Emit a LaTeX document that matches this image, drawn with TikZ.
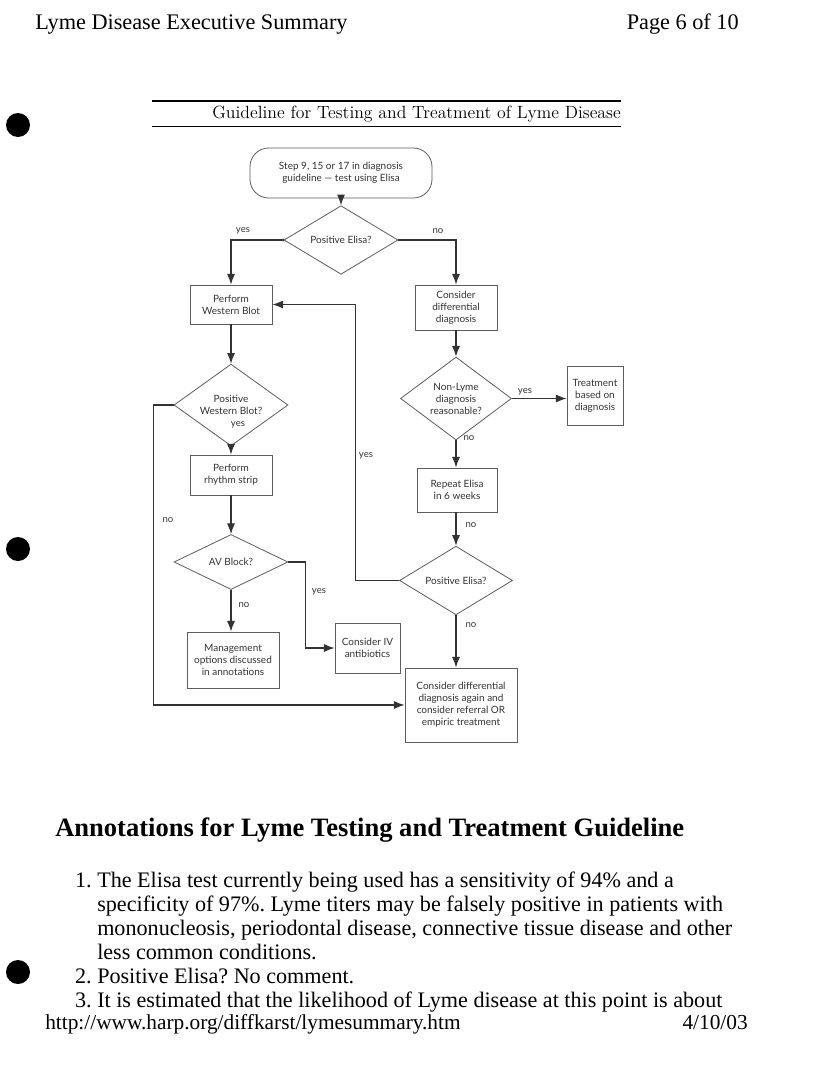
\documentclass[tikz,border=0pt]{standalone}
\usepackage{fontspec}
\setmainfont{Liberation Serif}
\newfontfamily\fc{Lato}
\newfontfamily\lmr{Latin Modern Roman}
\usetikzlibrary{shapes.geometric,arrows.meta}
\definecolor{ink}{gray}{0.2}
\frenchspacing
\tikzset{
  box/.style={draw=ink!80, line width=0.6pt, align=center, inner sep=1pt, font=\fc\fontsize{7.5}{9}\selectfont, text=ink},
  dia/.style={draw=ink!80, line width=0.6pt, shape=diamond, align=center, inner sep=0pt, font=\fc\fontsize{7.5}{9}\selectfont, text=ink},
  conn/.style={draw=ink, line width=0.8pt, -{Latex[length=8pt,width=6pt]}},
  lbl/.style={font=\fc\fontsize{7.2}{8}\selectfont, text=ink, inner sep=0pt},
  body/.style={font=\fontsize{16.6}{19}\selectfont, anchor=base west, inner sep=0pt},
}
\begin{document}
\begin{tikzpicture}[x=0.75pt,y=-0.75pt]
\useasboundingbox (0,0) rectangle (826,1089);
\fill[white] (0,0) rectangle (826,1089);
% header
\node[font=\fontsize{16.7}{19}\selectfont, anchor=base west, inner sep=0pt] (hdl) at (35,29) {Lyme Disease Executive Summary};
\node[font=\fontsize{16.7}{19}\selectfont, anchor=base east, inner sep=0pt] (hdr) at (739,29) {Page 6 of 10};
% punch holes
\fill[black] (18,125) circle (12);
\fill[black] (18,549) circle (12);
\fill[black] (18,972) circle (12);
% title bars
\draw[line width=1.5pt] (152,101) -- (621,101);
\draw[line width=0.7pt] (152,126) -- (621,126);
\node[font=\lmr\fontsize{13.3}{15}\selectfont, anchor=base east, inner sep=0pt] (ttl) at (621,118) {Guideline for Testing and Treatment of Lyme Disease};
% nodes
\node[box, rounded corners=14pt, minimum width=182*0.75pt, minimum height=50*0.75pt] (start) at (341,173) {Step 9, 15 or 17 in diagnosis\\guideline — test using Elisa};
\node[dia, minimum width=114*0.75pt, minimum height=50*0.75pt] (d1) at (341,240) {Positive Elisa?};
\node[box, minimum width=82*0.75pt, minimum height=39*0.75pt] (wb) at (231,304.5) {Perform\\Western Blot};
\node[box, minimum width=82*0.75pt, minimum height=45*0.75pt] (cd) at (456,307.5) {Consider\\differential\\diagnosis};
\node[dia, minimum width=114*0.75pt, minimum height=56*0.75pt] (d2) at (231,405) {Positive\\Western Blot?};
\node[box, minimum width=82*0.75pt, minimum height=40*0.75pt] (rs) at (231,475) {Perform\\rhythm strip};
\node[dia, minimum width=114*0.75pt, minimum height=55*0.75pt] (d3) at (231,562) {AV Block?};
\node[box, minimum width=92*0.75pt, minimum height=56*0.75pt] (mg) at (233,660) {Management\\options discussed\\in annotations};
\node[box, minimum width=65*0.75pt, minimum height=50*0.75pt] (iv) at (367.5,648) {Consider IV\\antibiotics};
\node[dia, minimum width=111*0.75pt, minimum height=63*0.75pt] (d4) at (456,398.5) {Non-Lyme\\diagnosis\\reasonable?};
\node[box, minimum width=56*0.75pt, minimum height=59*0.75pt] (tr) at (595,395.5) {Treatment\\based on\\diagnosis};
\node[box, minimum width=80*0.75pt, minimum height=44*0.75pt] (re) at (457,490) {Repeat Elisa\\in 6 weeks};
\node[dia, minimum width=113*0.75pt, minimum height=55*0.75pt] (d5) at (456,580.5) {Positive Elisa?};
\node[box, minimum width=112*0.75pt, minimum height=74*0.75pt] (fin) at (461,705) {Consider differential\\diagnosis again and\\consider referral OR\\empiric treatment};
% connectors
\draw[conn] (start.south) -- (d1.north);
\draw[conn] (d1.west) -| (wb.north);
\draw[conn] (d1.east) -| (cd.north);
\draw[conn] (wb.south) -- (d2.north);
\draw[conn] (d2.south) -- (rs.north);
\draw[conn] (rs.south) -- (d3.north);
\draw[conn] (d3.south) -- (d3.south |- mg.north);
\draw[conn] (d3.east) -- ++(17,0) |- (iv.west);
\draw[conn] (d2.west) -- ++(-20,0) |- (fin.west);
\draw[conn] (cd.south) -- (d4.north);
\draw[conn] (d4.east) -- (d4.east -| tr.west);
\draw[conn] (d4.south) -- (d4.south |- re.north);
\draw[conn] (re.south -| d5.north) -- (d5.north);
\draw[conn] (d5.south) -- (d5.south |- fin.north);
\draw[conn] (d5.west) -- ++(-44,0) |- (wb.east);
% labels
\node[lbl] (l1) at (243,231) {yes};
\node[lbl] (l2) at (438,231) {no};
\node[lbl] (l3) at (525,392) {yes};
\node[lbl] (l4) at (469,438) {no};
\node[lbl] (l5) at (471,525) {no};
\node[lbl] (l6) at (471,625) {no};
\node[lbl] (l7) at (366,456) {yes};
\node[lbl] (l8) at (238,425) {yes};
\node[lbl] (l9) at (168,520) {no};
\node[lbl] (l10) at (244,605) {no};
\node[lbl] (l11) at (319,592) {yes};
% annotations
\node[font=\bfseries\fontsize{19.9}{23}\selectfont, anchor=base west, inner sep=0pt] (ah) at (55,836) {Annotations for Lyme Testing and Treatment Guideline};
\node[body, anchor=base east] (n1) at (92,887) {1.};
\node[body] (t1a) at (97,887) {The Elisa test currently being used has a sensitivity of 94\% and a};
\node[body] (t1b) at (97,911) {specificity of 97\%. Lyme titers may be falsely positive in patients with};
\node[body] (t1c) at (97,935) {mononucleosis, periodontal disease, connective tissue disease and other};
\node[body] (t1d) at (97,959) {less common conditions.};
\node[body, anchor=base east] (n2) at (92,983) {2.};
\node[body] (t2) at (97,983) {Positive Elisa? No comment.};
\node[body, anchor=base east] (n3) at (92,1007) {3.};
\node[body] (t3) at (97,1007) {It is estimated that the likelihood of Lyme disease at this point is about};
\node[font=\fontsize{16}{18}\selectfont, anchor=base west, inner sep=0pt] (url) at (45,1029) {http://www.harp.org/diffkarst/lymesummary.htm};
\node[font=\fontsize{16}{18}\selectfont, anchor=base east, inner sep=0pt] (dt) at (748,1029) {4/10/03};
\end{tikzpicture}
\end{document}
